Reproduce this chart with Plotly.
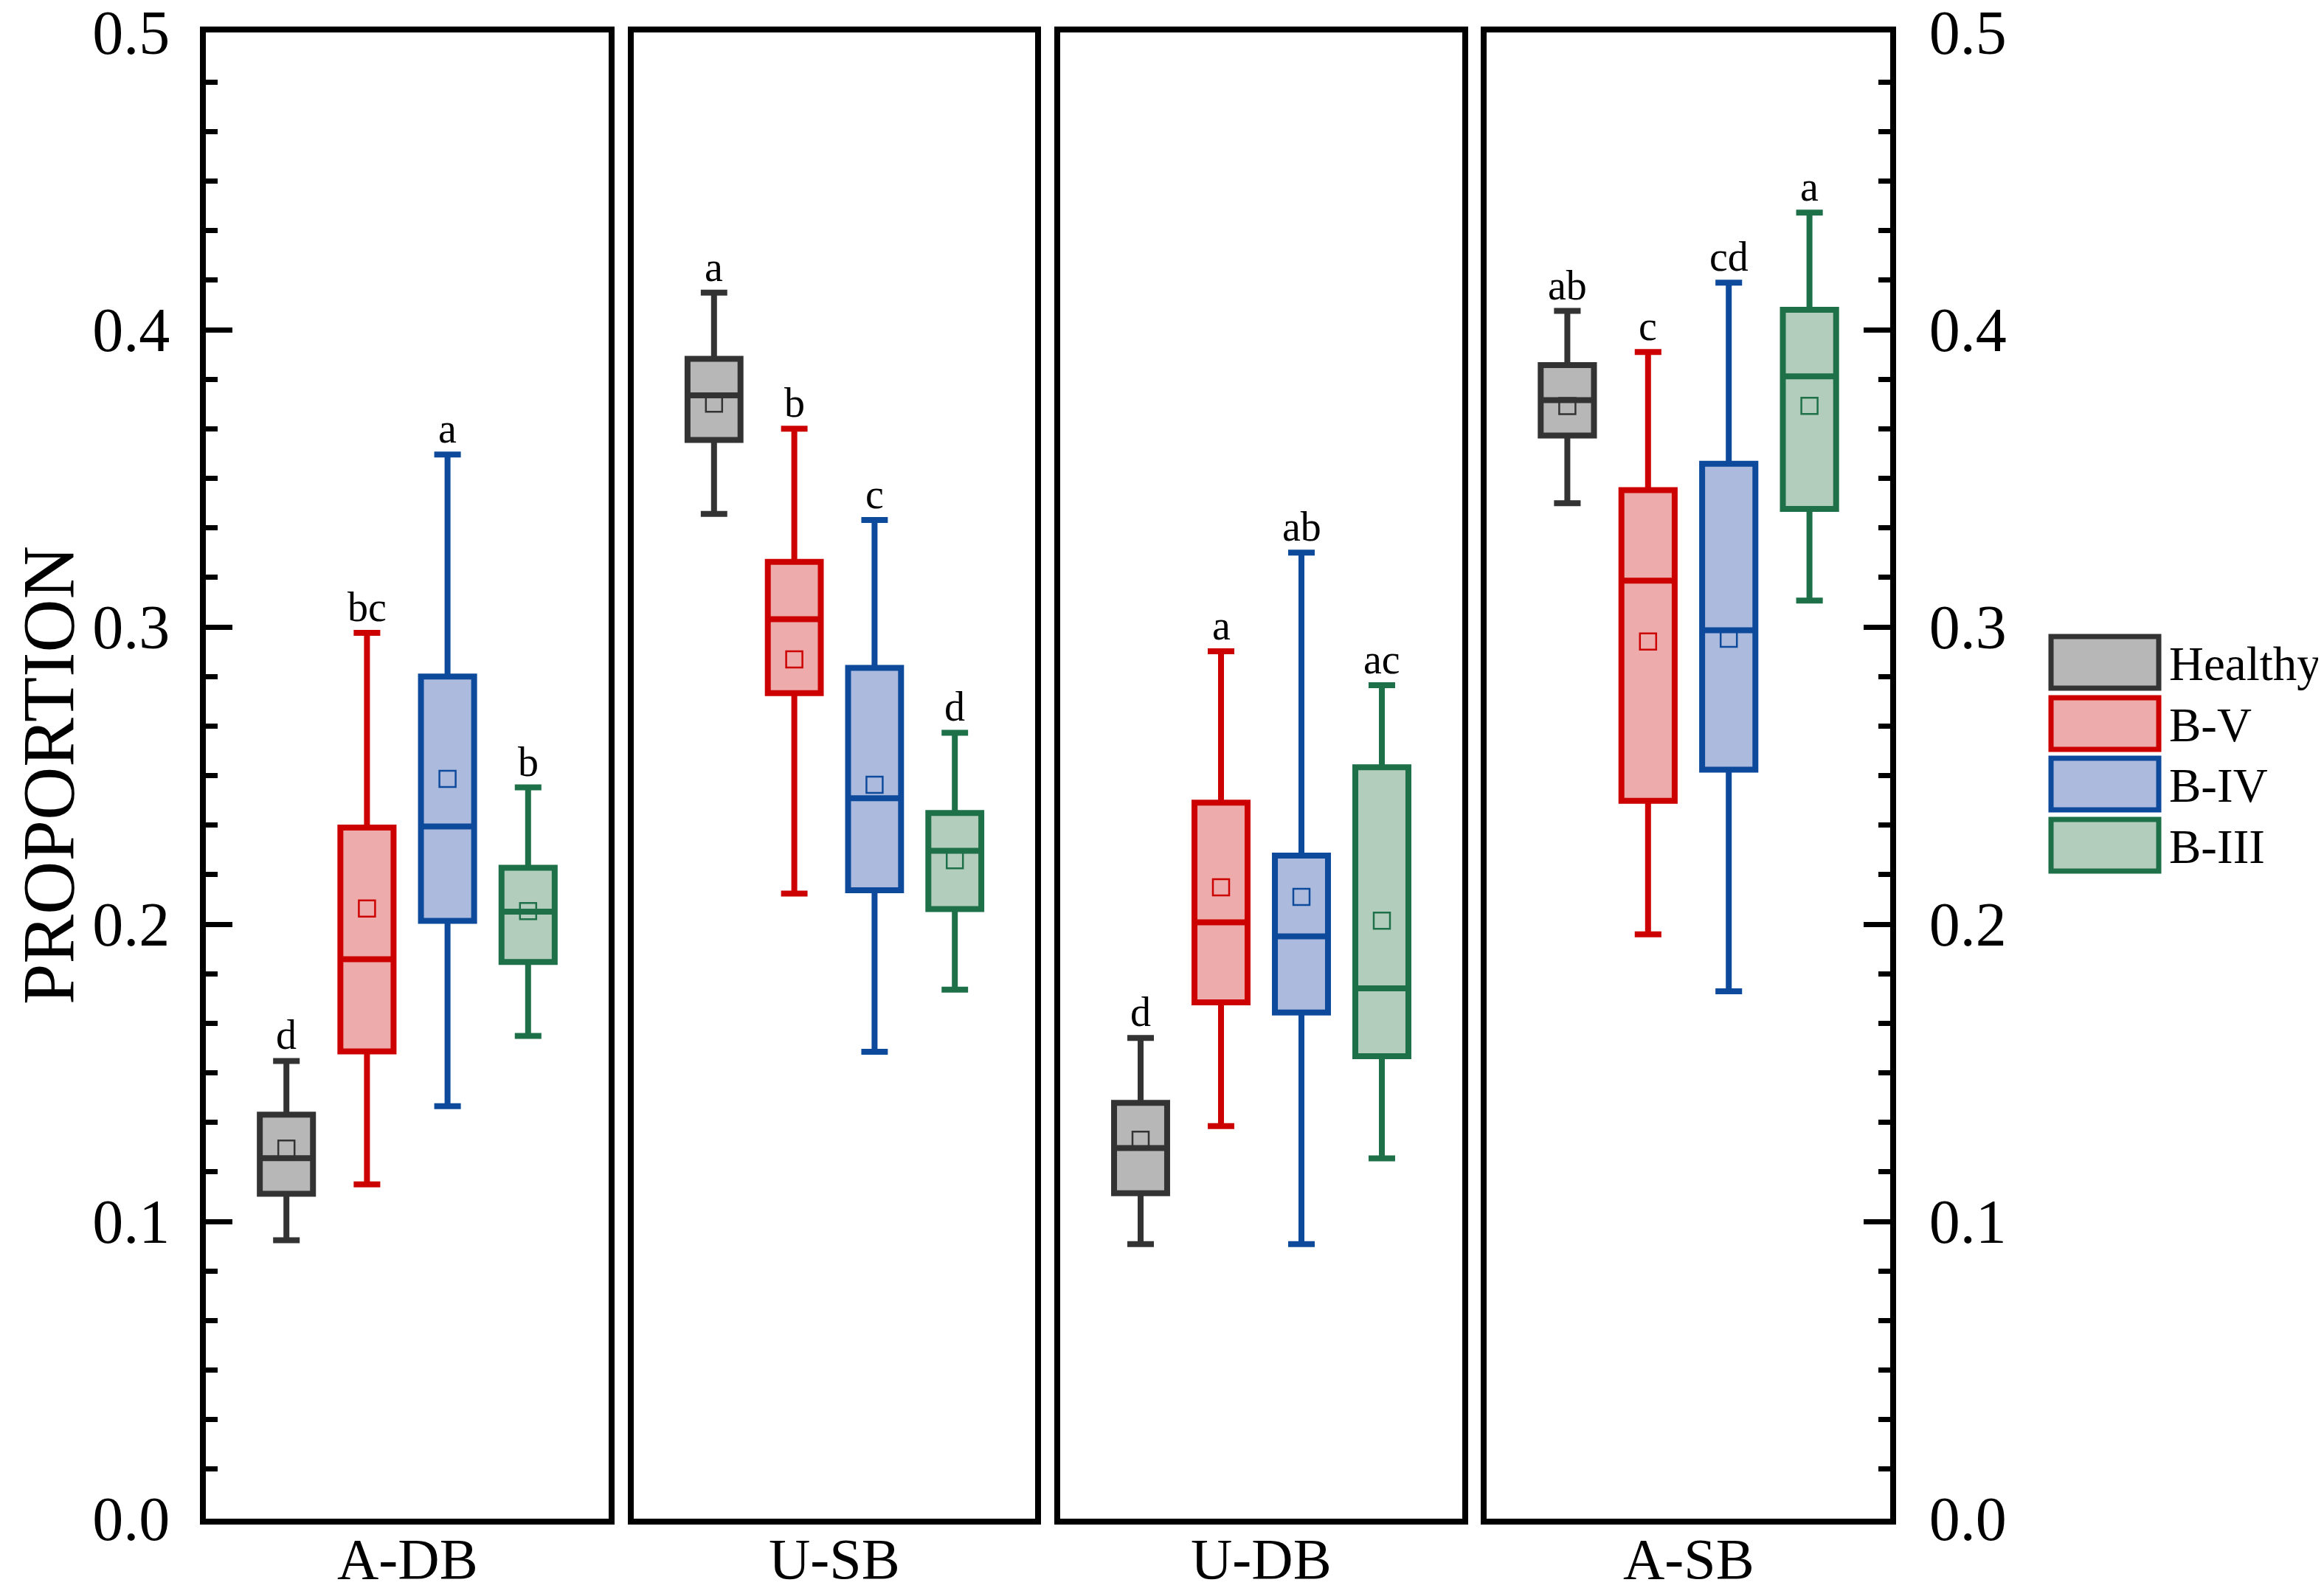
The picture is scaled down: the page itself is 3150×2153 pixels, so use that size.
import plotly.graph_objects as go

# panels (x groups) and series
sites = ["A-DB", "U-SB", "U-DB", "A-SB"]
groups = ["Healthy", "B-V", "B-IV", "B-III"]

# box statistics, rows = groups (Healthy, B-V, B-IV, B-III), cols = sites
upper = [[0.154, 0.4125, 0.1617, 0.4063],
         [0.298, 0.3667, 0.2918, 0.3925],
         [0.358, 0.336, 0.325, 0.4158],
         [0.246, 0.2644, 0.2804, 0.4394]]
q3 = [[0.1359, 0.3902, 0.1399, 0.3881],
      [0.2325, 0.3219, 0.2409, 0.346],
      [0.2833, 0.2862, 0.2231, 0.3549],
      [0.219, 0.2374, 0.2528, 0.4067]]
median = [[0.1213, 0.3779, 0.1247, 0.3763],
          [0.1882, 0.3026, 0.2006, 0.3156],
          [0.2329, 0.2424, 0.1959, 0.2989],
          [0.2042, 0.2247, 0.1784, 0.3843]]
q1 = [[0.1093, 0.3629, 0.1095, 0.3644],
      [0.1572, 0.2777, 0.1737, 0.2415],
      [0.2011, 0.2114, 0.1703, 0.252],
      [0.1873, 0.2051, 0.1556, 0.3397]]
lower = [[0.0937, 0.338, 0.0924, 0.3416],
         [0.1125, 0.2103, 0.1321, 0.1966],
         [0.1388, 0.1571, 0.0924, 0.1774],
         [0.1624, 0.178, 0.1212, 0.3089]]
mean = [[0.1245, 0.3751, 0.1275, 0.3743],
        [0.2053, 0.2891, 0.2124, 0.2951],
        [0.2489, 0.2469, 0.2092, 0.296],
        [0.2044, 0.2215, 0.2012, 0.3744]]
letters = [["d", "a", "d", "ab"],
           ["bc", "b", "a", "c"],
           ["a", "c", "ab", "cd"],
           ["b", "d", "ac", "a"]]

line_colors = ["#333333", "#cc0000", "#0d4a9b", "#1d7048"]
fill_colors = ["#b7b7b7", "#eeabab", "#abbadd", "#b3cdbd"]

FONT = "Liberation Serif"
W, H = 3150, 2153

# panel pixel extents
panel_px = [(271, 817), (851, 1395), (1429, 1974), (2007, 2554)]
y_dom = [(H - 2051) / H, (H - 36) / H]

fig = go.Figure()

for p, site in enumerate(sites):
    xa = "x" if p == 0 else f"x{p+1}"
    ya = "y" if p == 0 else f"y{p+1}"
    for g, grp in enumerate(groups):
        pos = g + 1
        fig.add_trace(go.Box(
            x=[pos], q1=[q1[g][p]], median=[median[g][p]], q3=[q3[g][p]],
            lowerfence=[lower[g][p]], upperfence=[upper[g][p]],
            name=grp, width=0.66, whiskerwidth=0.5, boxpoints=False,
            line=dict(color=line_colors[g], width=8),
            fillcolor=fill_colors[g], showlegend=False,
            xaxis=xa, yaxis=ya,
        ))
        fig.add_trace(go.Scatter(
            x=[pos], y=[mean[g][p]], mode="markers",
            marker=dict(symbol="square-open", size=22,
                        color=line_colors[g], line=dict(width=2.5, color=line_colors[g])),
            showlegend=False, xaxis=xa, yaxis=ya,
        ))
        fig.add_annotation(
            x=pos, y=upper[g][p], xref=xa, yref=ya, text=letters[g][p],
            showarrow=False, yanchor="bottom", yshift=2,
            font=dict(family=FONT, size=56, color="black"),
        )
    # site label under the panel
    fig.add_annotation(
        x=2.5, y=1 - 2105 / H, xref=xa, yref="paper", text=site,
        showarrow=False, xanchor="center", yanchor="middle",
        font=dict(family=FONT, size=78, color="black"),
    )

minor_vals = [round(i / 60, 5) for i in range(31) if i % 6]

for p in range(4):
    x0, x1 = panel_px[p]
    xkey = "xaxis" if p == 0 else f"xaxis{p+1}"
    ykey = "yaxis" if p == 0 else f"yaxis{p+1}"
    ya = "y" if p == 0 else f"y{p+1}"
    xa = "x" if p == 0 else f"x{p+1}"
    fig.layout[xkey] = dict(
        domain=[x0 / W, x1 / W], range=[0, 5], anchor=ya, automargin=False,
        showline=True, mirror=True, linewidth=8, linecolor="black",
        showgrid=False, zeroline=False, ticks="", showticklabels=False,
    )
    yax = dict(
        domain=y_dom, range=[0, 0.5], anchor=xa, automargin=False,
        showline=True, mirror=True, linewidth=8, linecolor="black",
        showgrid=False, zeroline=False,
    )
    if p in (0, 3):
        yax.update(
            side="left" if p == 0 else "right",
            ticks="inside", ticklen=36, tickwidth=7, tickcolor="black",
            tickmode="array", tickvals=[0, 0.1, 0.2, 0.3, 0.4, 0.5],
            tickformat=".1f", ticklabelstandoff=24 if p == 0 else 28,
            ticklabeloverflow="allow",
            tickfont=dict(family=FONT, size=84, color="black"),
            minor=dict(tickmode="array", tickvals=minor_vals, ticks="inside",
                       ticklen=16, tickwidth=7, tickcolor="black"),
        )
    else:
        yax.update(ticks="", showticklabels=False)
    fig.layout[ykey] = yax

# y title
fig.add_annotation(
    x=58 / W, y=1 - 1043 / H, xref="paper", yref="paper", text="PROPORTION",
    textangle=-90, showarrow=False, xanchor="center", yanchor="middle",
    font=dict(family=FONT, size=100, color="black"),
)

# legend drawn as boxes + labels
leg_top = [852, 935, 1017, 1100]
for g, grp in enumerate(groups):
    t = leg_top[g]
    fig.add_shape(
        type="rect", xref="paper", yref="paper",
        x0=2772 / W, x1=2918 / W, y0=1 - (t + 73) / H, y1=1 - (t + 3) / H,
        line=dict(color=line_colors[g], width=7), fillcolor=fill_colors[g],
    )
    fig.add_annotation(
        x=2930 / W, y=1 - (t + 40) / H, xref="paper", yref="paper", text=grp,
        showarrow=False, xanchor="left", yanchor="middle",
        font=dict(family=FONT, size=65, color="black"),
    )

fig.update_layout(
    width=W, height=H,
    margin=dict(l=0, r=0, t=0, b=0),
    paper_bgcolor="white", plot_bgcolor="white",
    showlegend=False,
    font=dict(family=FONT, color="black"),
)

fig.write_html("out.html")
